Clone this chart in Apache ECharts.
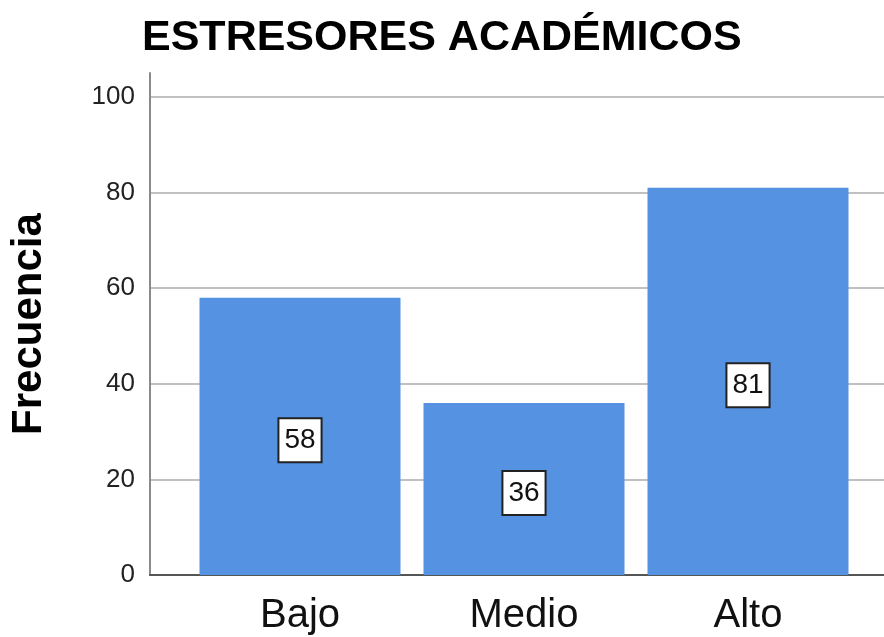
<!DOCTYPE html>
<html>
<head>
<meta charset="utf-8">
<script src="https://cdn.jsdelivr.net/npm/echarts@6/dist/echarts.min.js"></script>
<style>
  html, body { margin: 0; padding: 0; background: #fff; }
  #chart { width: 884px; height: 637px; }
</style>
</head>
<body>
<div id="chart"></div>
<script>
var titulo = 'ESTRESORES ACADÉMICOS';
var categorias = ['Bajo', 'Medio', 'Alto'];
var frecuencias = [58, 36, 81];
var yMin = 0;
var yMax = 105;
var yIntervalo = 20;

var chart = echarts.init(document.getElementById('chart'), null, { renderer: 'canvas' });
var fuente = '"Liberation Sans", Arial, sans-serif';

var option = {
    backgroundColor: '#ffffff',
    animation: false,
    title: {
        text: titulo,
        left: 142,
        top: 17,
        padding: 0,
        textStyle: {
            fontFamily: fuente,
            fontSize: 43,
            fontWeight: 'bold',
            color: '#000'
        }
    },
    grid: [
        // ejes y rejilla
        { left: 150, right: 0, top: 73, bottom: 62, containLabel: false, outerBoundsMode: 'none' },
        // barras
        { left: 188, width: 672, top: 73, bottom: 62, containLabel: false, outerBoundsMode: 'none' }
    ],
    xAxis: [{
        gridIndex: 0,
        type: 'value',
        min: 0,
        max: 1,
        axisLine: { show: true, lineStyle: { color: '#555', width: 2 } },
        axisTick: { show: false },
        axisLabel: { show: false },
        splitLine: { show: false }
    }, {
        gridIndex: 1,
        type: 'category',
        data: categorias,
        axisLine: { show: false },
        axisTick: { show: false },
        axisLabel: {
            margin: 21,
            fontFamily: fuente,
            fontSize: 40,
            color: '#111'
        }
    }],
    yAxis: [{
        gridIndex: 0,
        type: 'value',
        min: yMin,
        max: yMax,
        interval: yIntervalo,
        name: 'Frecuencia',
        nameLocation: 'middle',
        nameRotate: 90,
        nameGap: 100,
        nameTextStyle: {
            fontFamily: fuente,
            fontSize: 42,
            fontWeight: 'bold',
            color: '#000'
        },
        axisLine: { show: true, lineStyle: { color: '#8a8a8a', width: 2 } },
        axisTick: { show: false },
        axisLabel: {
            margin: 15,
            showMaxLabel: false,
            fontFamily: fuente,
            fontSize: 26,
            color: '#222'
        },
        splitLine: {
            show: true,
            showMinLine: false,
            showMaxLine: false,
            lineStyle: { color: '#c0c0c0', width: 2 }
        }
    }, {
        gridIndex: 1,
        type: 'value',
        min: yMin,
        max: yMax,
        show: false
    }],
    series: [{
        type: 'bar',
        xAxisIndex: 1,
        yAxisIndex: 1,
        data: frecuencias,
        barWidth: 201,
        itemStyle: { color: '#5592e2' },
        label: {
            show: true,
            position: 'inside',
            offset: [0, 4],
            fontFamily: fuente,
            fontSize: 28,
            color: '#111',
            backgroundColor: '#fff',
            borderColor: '#222',
            borderWidth: 2,
            padding: [7, 5, 7, 5]
        }
    }]
};

chart.setOption(option);
window.onresize = chart.resize;
</script>
</body>
</html>
